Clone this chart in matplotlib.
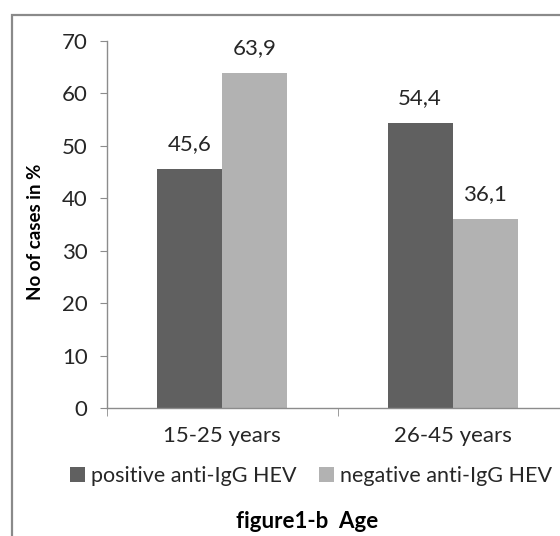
import matplotlib
matplotlib.use("Agg")
import matplotlib.pyplot as plt
from matplotlib.patches import Rectangle
import numpy as np

categories = ["15-25 years", "26-45 years"]
positive = [45.6, 54.4]
negative = [63.9, 36.1]
series_names = ["positive anti-IgG HEV", "negative anti-IgG HEV"]
yticks = [0, 10, 20, 30, 40, 50, 60, 70]

dark = "#606060"
light = "#b2b2b2"
text_col = "#262626"
axis_col = "#8c8c8c"

plt.rcParams["font.family"] = ["Lato", "DejaVu Sans"]

fig = plt.figure(figsize=(5.6, 5.36), dpi=100)
fig.patch.set_facecolor("white")

# chart area border (extends past the right and bottom edges)
fig.add_artist(Rectangle((12 / 560, -0.1), 1.2, 1 - 15 / 536 + 0.1,
                         transform=fig.transFigure, fill=False,
                         edgecolor="#8a8a8a", linewidth=1.6))

ax = fig.add_axes([107 / 560, 1 - 408 / 536, 461 / 560, 367 / 536])
x = np.arange(len(categories)) + 0.5
w = 0.283
b1 = ax.bar(x - w / 2, positive, width=w, color=dark, label=series_names[0])
b2 = ax.bar(x + w / 2, negative, width=w, color=light, label=series_names[1])

for bars, vals in ((b1, positive), (b2, negative)):
    for r, v in zip(bars, vals):
        ax.text(r.get_x() + r.get_width() / 2, v + 2.8, f"{v:.1f}".replace(".", ","),
                ha="center", va="bottom", fontsize=16, color=text_col)

ax.set_xlim(0, 2)
ax.set_ylim(0, 70)
ax.set_yticks(yticks)
ax.set_yticklabels([str(t) for t in yticks], fontsize=16, color=text_col)
ax.set_xticks(x)
ax.set_xticklabels(categories, fontsize=16, color=text_col)
ax.set_xticks([0, 1, 2], minor=True)
ax.tick_params(axis="x", which="major", length=0, pad=13)
ax.tick_params(axis="x", which="minor", length=6, color=axis_col, direction="out")
ax.tick_params(axis="y", length=5, color=axis_col, direction="out", pad=9)

for s in ("top", "right"):
    ax.spines[s].set_visible(False)
for s in ("left", "bottom"):
    ax.spines[s].set_color(axis_col)
    ax.spines[s].set_linewidth(1.0)

ax.set_ylabel("No of cases in %", fontsize=13.5, fontweight="bold", color="black")
ax.yaxis.set_label_coords(-0.137, 0.48)

fig.legend(handles=[b1, b2], labels=series_names, loc="center",
           bbox_to_anchor=(311 / 560, 1 - 476 / 536), ncol=2, frameon=False,
           fontsize=15.5, handlelength=0.7, handleheight=0.7, handletextpad=0.3,
           columnspacing=1.0, labelcolor=text_col)

fig.text(307 / 560, 1 - 522 / 536, "figure1-b  Age", ha="center", va="center",
         fontsize=16, fontweight="bold", color="black")

fig.savefig("out.png", dpi=100, facecolor="white")
